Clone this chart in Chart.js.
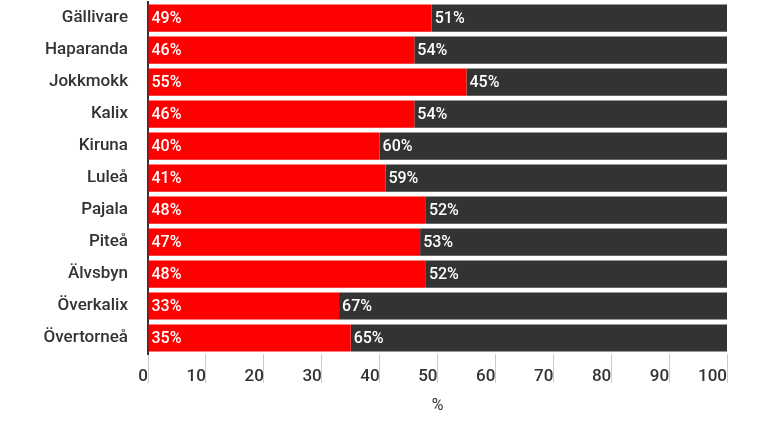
<!DOCTYPE html>
<html>
<head>
<meta charset="utf-8">
<script src="https://cdn.jsdelivr.net/npm/chart.js@4/dist/chart.umd.min.js"></script>
<style>
  html, body { margin: 0; padding: 0; background: #fff; overflow: hidden; }
  #wrap { position: absolute; left: 0; top: -20px; width: 783px; height: 460px; }
</style>
</head>
<body>
<div id="wrap"><canvas id="grafico"></canvas></div>
<script>
// Kommuner och andelar (%)
const kommuner = ["Gällivare", "Haparanda", "Jokkmokk", "Kalix", "Kiruna", "Luleå", "Pajala", "Piteå", "Älvsbyn", "Överkalix", "Övertorneå"];
const andelRod = [49, 46, 55, 46, 40, 41, 48, 47, 48, 33, 35];
const andelGra = [51, 54, 45, 54, 60, 59, 52, 53, 52, 67, 65];
const xTicks = [0, 10, 20, 30, 40, 50, 60, 70, 80, 90, 100];

// Skriver procenttalen i början av varje segment
const barLabels = {
    id: 'barLabels',
    afterDatasetsDraw(chart) {
        const ctx = chart.ctx;
        ctx.save();
        ctx.font = '500 16px Roboto';
        ctx.fillStyle = '#ffffff';
        ctx.textBaseline = 'middle';
        ctx.textAlign = 'left';
        chart.data.datasets.forEach((ds, i) => {
            chart.getDatasetMeta(i).data.forEach((bar, j) => {
                const left = Math.min(bar.x, bar.base);
                ctx.fillText(ds.data[j] + '%', left + 3, bar.y + 1);
            });
        });
        ctx.restore();
    }
};

new Chart(document.getElementById('grafico'), {
    type: 'bar',
    data: {
        labels: kommuner,
        datasets: [
            { data: andelRod, backgroundColor: '#ff0000', barPercentage: 1, categoryPercentage: 0.85 },
            { data: andelGra, backgroundColor: '#333333', barPercentage: 1, categoryPercentage: 0.85 }
        ]
    },
    options: {
        indexAxis: 'y',
        responsive: true,
        maintainAspectRatio: false,
        animation: false,
        layout: { padding: { left: 0, right: 56, top: 8, bottom: 20 } },
        plugins: { legend: { display: false }, tooltip: { enabled: false } },
        scales: {
            x: {
                stacked: true,
                min: 0,
                max: 100,
                afterBuildTicks(axis) { axis.ticks = xTicks.map(v => ({ value: v })); },
                afterFit(axis) { axis.height = 66; },
                grid: { drawOnChartArea: false, tickLength: 29, color: '#cccccc' },
                border: { display: false },
                ticks: { align: 'end', padding: -16, color: '#333333', font: { family: 'Roboto', size: 17, weight: '500' } },
                title: { display: true, text: '%', color: '#333333', font: { family: 'Roboto', size: 16 }, padding: { top: 0, bottom: 4 } }
            },
            y: {
                stacked: true,
                grid: { display: false },
                border: { display: true, color: '#333333', width: 2 },
                ticks: { color: '#333333', padding: 12, font: { family: 'Roboto', size: 17, weight: '500' } },
                afterFit(axis) { axis.width = 148; }
            }
        }
    },
    plugins: [barLabels]
});
</script>
</body>
</html>
